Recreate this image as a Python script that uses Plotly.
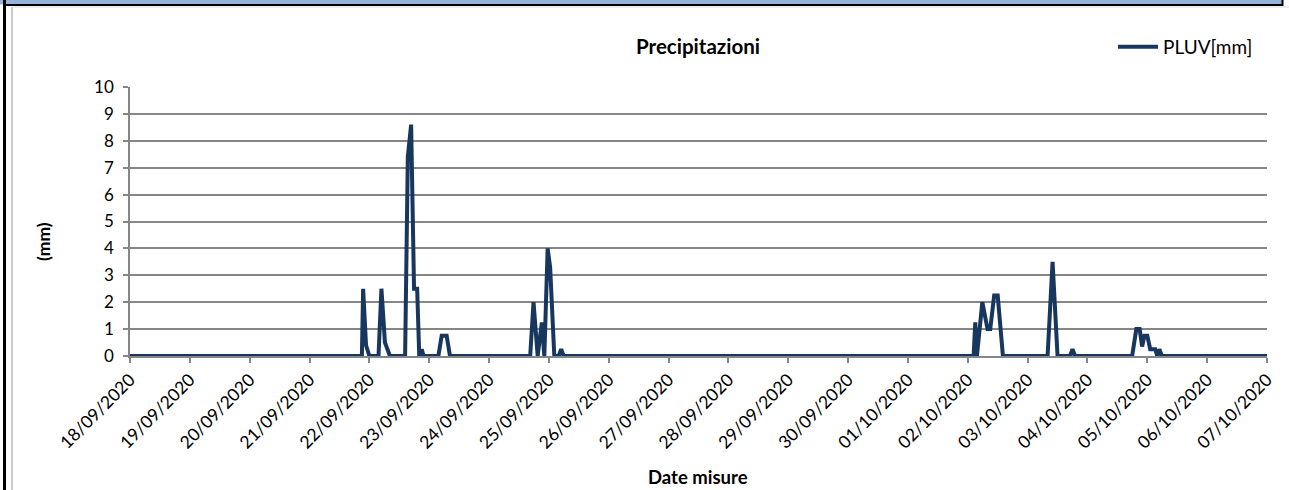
import plotly.graph_objects as go

# ---- data ----
times = [
    "2020-09-18 00:00", "2020-09-21 21:00", "2020-09-21 21:30", "2020-09-21 22:40", "2020-09-22 00:00",
    "2020-09-22 03:40", "2020-09-22 04:50", "2020-09-22 06:15", "2020-09-22 08:15",
    "2020-09-22 14:20", "2020-09-22 15:25", "2020-09-22 16:45", "2020-09-22 17:55", "2020-09-22 19:10",
    "2020-09-22 20:00", "2020-09-22 21:00", "2020-09-22 21:45",
    "2020-09-23 03:40", "2020-09-23 05:00", "2020-09-23 07:00", "2020-09-23 08:20",
    "2020-09-24 16:30", "2020-09-24 17:50", "2020-09-24 19:30", "2020-09-24 21:10", "2020-09-24 22:10",
    "2020-09-24 23:30", "2020-09-25 00:30", "2020-09-25 02:10", "2020-09-25 03:55", "2020-09-25 04:55",
    "2020-09-25 05:55",
    "2020-10-02 02:20", "2020-10-02 03:00", "2020-10-02 03:40", "2020-10-02 05:50", "2020-10-02 07:55",
    "2020-10-02 09:00", "2020-10-02 10:35", "2020-10-02 12:00", "2020-10-02 14:05",
    "2020-10-03 08:00", "2020-10-03 10:00", "2020-10-03 12:00", "2020-10-03 17:00", "2020-10-03 18:00",
    "2020-10-03 19:00",
    "2020-10-04 17:55", "2020-10-04 19:35", "2020-10-04 20:55", "2020-10-04 21:55", "2020-10-04 22:50",
    "2020-10-05 00:00", "2020-10-05 01:10", "2020-10-05 03:10", "2020-10-05 04:00", "2020-10-05 04:50",
    "2020-10-05 05:50", "2020-10-07 00:00",
]
pluv_mm = [
    0, 0, 2.5, 0.4, 0,
    0, 2.5, 0.5, 0,
    0, 7.4, 8.6, 2.5, 2.5,
    0, 0.25, 0,
    0, 0.75, 0.75, 0,
    0, 2.0, 0, 1.25, 0,
    4.0, 3.3, 0, 0, 0.25,
    0,
    0, 1.25, 0, 2.0, 1.0,
    1.0, 2.25, 2.25, 0,
    0, 3.5, 0, 0, 0.25,
    0,
    0, 1.0, 1.0, 0.35, 0.75,
    0.75, 0.25, 0.25, 0, 0.25,
    0, 0,
]
tick_dates = [
    "2020-09-18", "2020-09-19", "2020-09-20", "2020-09-21", "2020-09-22", "2020-09-23", "2020-09-24",
    "2020-09-25", "2020-09-26", "2020-09-27", "2020-09-28", "2020-09-29", "2020-09-30", "2020-10-01",
    "2020-10-02", "2020-10-03", "2020-10-04", "2020-10-05", "2020-10-06", "2020-10-07",
]
tick_labels = [
    "18/09/2020", "19/09/2020", "20/09/2020", "21/09/2020", "22/09/2020", "23/09/2020", "24/09/2020",
    "25/09/2020", "26/09/2020", "27/09/2020", "28/09/2020", "29/09/2020", "30/09/2020", "01/10/2020",
    "02/10/2020", "03/10/2020", "04/10/2020", "05/10/2020", "06/10/2020", "07/10/2020",
]
series_name = "PLUV[mm]"
chart_title = "Precipitazioni"
x_title = "Date misure"
y_title = "(mm)"

# ---- layout geometry ----
W, H = 1289, 490
L, R, T, B = 130, 22, 87, 134
PW, PH = W - L - R, H - T - B


def px(x):
    return (x - L) / PW


def py(y):
    return (H - B - y) / PH


FONT = "Lato, 'Open Sans', 'Liberation Sans', sans-serif"

fig = go.Figure()
fig.add_trace(go.Scatter(
    x=times, y=pluv_mm, mode="lines", name=series_name,
    line=dict(color="#17375E", width=4),
))

shapes = [
    # header band
    dict(type="rect", xref="paper", yref="paper", x0=px(0), x1=px(1282), y0=py(0), y1=py(4.5),
         fillcolor="#95B3D7", line=dict(width=0), layer="above"),
    dict(type="line", xref="paper", yref="paper", x0=px(3), x1=px(1283), y0=py(5), y1=py(5),
         line=dict(color="#000000", width=2), layer="above"),
    dict(type="line", xref="paper", yref="paper", x0=px(1282.5), x1=px(1282.5), y0=py(0), y1=py(6),
         line=dict(color="#000000", width=2), layer="above"),
    # left black frame
    dict(type="line", xref="paper", yref="paper", x0=px(4.5), x1=px(4.5), y0=py(0), y1=py(490),
         line=dict(color="#000000", width=3), layer="above"),
    # inner grey chart border
    dict(type="line", xref="paper", yref="paper", x0=px(12), x1=px(12), y0=py(7), y1=py(490),
         line=dict(color="#A6A6A6", width=1.2), layer="above"),
    dict(type="line", xref="paper", yref="paper", x0=px(12), x1=px(1289), y0=py(7), y1=py(7),
         line=dict(color="#D9D9D9", width=1), layer="above"),
]

annotations = [
    dict(text=f"<b>{x_title}</b>", xref="paper", yref="paper", x=px(698), y=py(477),
         xanchor="center", yanchor="middle", showarrow=False, font=dict(size=18.5, family=FONT)),
    dict(text=f"<b>{y_title}</b>", xref="paper", yref="paper", x=px(43), y=py(242),
         xanchor="center", yanchor="middle", showarrow=False, textangle=-90,
         font=dict(size=17.5, family=FONT)),
]

fig.update_layout(
    width=W, height=H,
    margin=dict(l=L, r=R, t=T, b=B, autoexpand=False),
    paper_bgcolor="white", plot_bgcolor="white",
    font=dict(family=FONT, color="#000000", size=17),
    title=dict(text=f"<b>{chart_title}</b>", xref="container", x=698 / W, xanchor="center",
               yref="container", y=1 - 47 / H, yanchor="middle",
               font=dict(size=20.5, family=FONT)),
    showlegend=True,
    legend=dict(x=px(1113), xanchor="left", y=py(47), yanchor="middle", bgcolor="rgba(0,0,0,0)",
                font=dict(size=19, family=FONT), borderwidth=0, itemwidth=40),
    shapes=shapes,
    annotations=annotations,
    xaxis=dict(
        type="date", range=["2020-09-18", "2020-10-07"], automargin=False,
        tickmode="array", tickvals=tick_dates, ticktext=tick_labels, tickangle=-45,
        ticks="outside", ticklen=5, tickcolor="#868686", tickwidth=1.5,
        showline=True, linecolor="#868686", linewidth=1.5,
        showgrid=False, zeroline=False,
        tickfont=dict(size=17.5, family=FONT),
    ),
    yaxis=dict(
        range=[0, 10], dtick=1, tick0=0, automargin=False,
        ticks="outside", ticklen=5, tickcolor="#868686", tickwidth=1.5,
        showline=True, linecolor="#868686", linewidth=1.5,
        showgrid=True, gridcolor="#868686", gridwidth=1.5, zeroline=False,
        tickfont=dict(size=17, family=FONT), ticklabelstandoff=6,
    ),
)

fig.write_html("out.html", config={"displayModeBar": False},
               post_script="document.body.style.margin='0px';")
